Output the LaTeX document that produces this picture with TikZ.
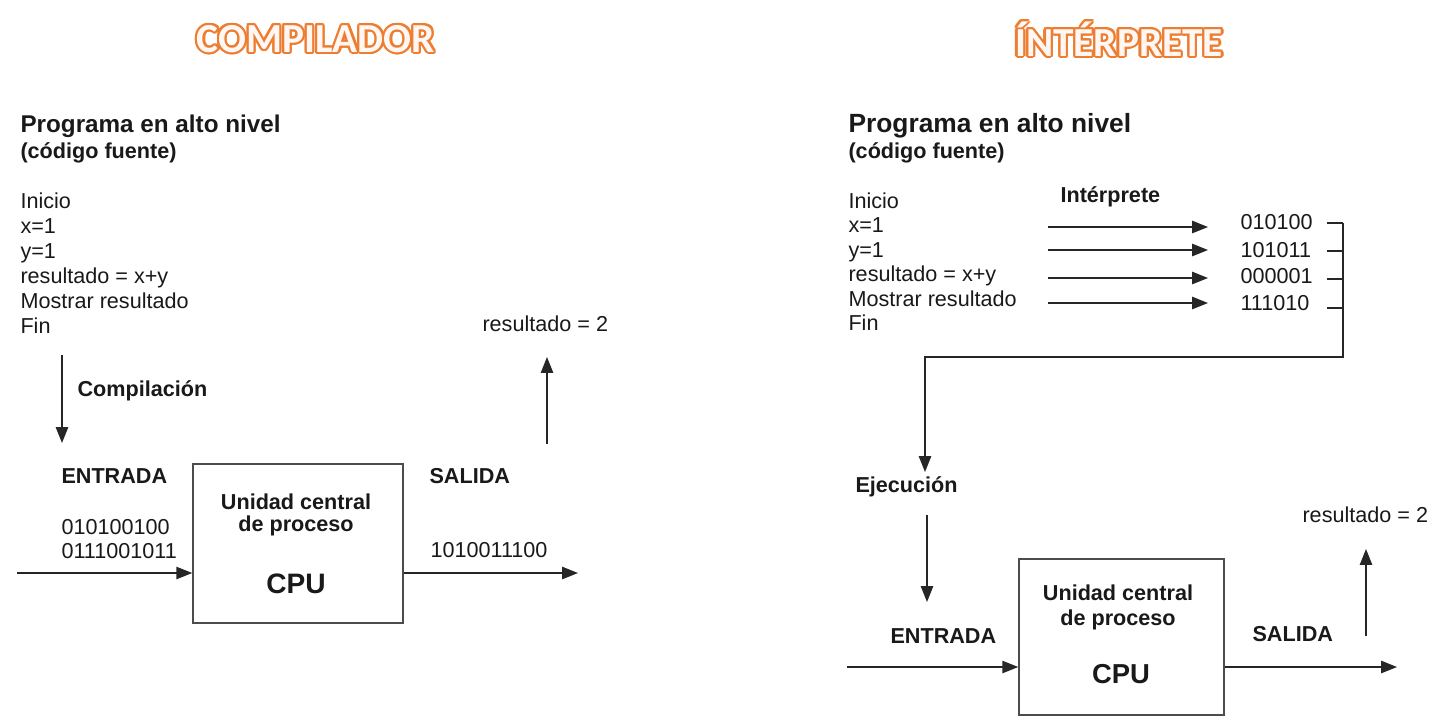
\documentclass[tikz,border=0pt]{standalone}
\usepackage{fontspec}
\setmainfont{Liberation Sans}
\newfontfamily\titlefont{Carlito}
\usepackage{tikz}
\usetikzlibrary{arrows.meta}
\usepackage{tkz-euclide}
\usepackage{contour}
\contourlength{1.2pt}
\definecolor{naranja}{HTML}{ED7D31}

\begin{document}
\begin{tikzpicture}[semithick,x=0.02cm,y=-0.02cm,
  txt/.style={inner sep=0pt,anchor=base west,text=black!90,font=\fontsize{12.3}{14.2}\selectfont},
  negr/.style={txt,font=\fontsize{12.3}{14.2}\selectfont\bfseries},
  titulo/.style={inner sep=0pt,text=naranja!6,font=\fontsize{23.5}{26}\selectfont\titlefont\bfseries},
  caja/.style={draw=black!70,line width=0.9pt},
  flecha/.style={-{Triangle[length=9pt,width=7pt]},line width=0.8pt,black!85}]
\useasboundingbox (0,0) rectangle (1446,724);
\tkzDefPoints{62/355/c1,62/443/c2,17/573/e1,578/573/s1,547/444/r1,547/357/r2}
\tkzDefPoints{1343/223/k1,1343/357/k2,925/357/k3,925/472/k4}
\tkzDefPoints{927/515/j1,927/602/j2,847/667/e2,1397/667/s2,1366/636/r3,1366/549/r4}

\node[titulo] (tcomp) at (316,40) {\contour{naranja}{COMPILADOR}};
\node[titulo] (tint) at (1119,40) {\contour{naranja}{ÍNTÉRPRETE}};

\node[negr,font=\fontsize{13.8}{16}\selectfont\bfseries] (progA) at (20,132) {Programa en alto nivel};
\node[negr] (fuenteA) at (20,158) {(código fuente)};
\foreach \t [count=\i] in {Inicio,x=1,y=1,resultado = x+y,Mostrar resultado,Fin}
  \node[txt] (codA\i) at (20,183+25*\i) {\t};
\node[negr] (compil) at (77,396) {Compilación};
\node[negr] (entA) at (61,483) {ENTRADA};
\node[negr] (salA) at (429,483) {SALIDA};
\node[txt] (binA1) at (61,534) {010100100};
\node[txt] (binA2) at (61,558) {0111001011};
\node[txt] (binA3) at (430,557) {1010011100};
\node[txt] (resA) at (482,331) {resultado = 2};
\node[caja,minimum width=4.2cm,minimum height=3.18cm] (cpuA) at (298,543.5) {};
\node[negr,anchor=base] (ucA) at (296,509) {Unidad central};
\node[negr,anchor=base] (dpA) at (296,531) {de proceso};
\node[negr,anchor=base,font=\fontsize{16}{18}\selectfont\bfseries] (cA) at (296,593) {CPU};
\draw[flecha] (c1)--(c2);
\draw[flecha] (e1)--(e1-|cpuA.west);
\draw[flecha] (s1-|cpuA.east)--(s1);
\draw[flecha] (r1)--(r2);

\node[negr,font=\fontsize{15}{17}\selectfont\bfseries] (progB) at (848,132) {Programa en alto nivel};
\node[negr] (fuenteB) at (848,158) {(código fuente)};
\foreach \t [count=\i] in {Inicio,x=1,y=1,resultado = x+y,Mostrar resultado,Fin}
  \node[txt] (codB\i) at (848,183.5+24.5*\i) {\t};
\node[negr] (interp) at (1060,202) {Intérprete};
\foreach \t/\y/\z [count=\i] in {010100/229/227,101011/257/250,000001/283/278,111010/310/303}{
  \node[txt] (binB\i) at (1240,\y) {\t};
  \coordinate (p\i) at (1048,\z);
  \coordinate (q\i) at (1208,\z);
  \draw[flecha] (p\i)--(q\i);}
\foreach \y in {223,251,279,308}
  \draw[line width=0.8pt,black!85] (1327,\y)--(1343,\y);
\draw[flecha] (k1)--(k2)--(k3)--(k4);
\node[negr] (ejec) at (855,492) {Ejecución};
\node[negr] (entB) at (890,643) {ENTRADA};
\node[negr] (salB) at (1252,641) {SALIDA};
\node[txt] (resB) at (1302,522) {resultado = 2};
\node[caja,minimum width=4.1cm,minimum height=3.12cm] (cpuB) at (1121.5,637) {};
\node[negr,anchor=base] (ucB) at (1118,600) {Unidad central};
\node[negr,anchor=base] (dpB) at (1118,625) {de proceso};
\node[negr,anchor=base,font=\fontsize{15.6}{18}\selectfont\bfseries] (cB) at (1121,683) {CPU};
\draw[flecha] (j1)--(j2);
\draw[flecha] (e2)--(e2-|cpuB.west);
\draw[flecha] (s2-|cpuB.east)--(s2);
\draw[flecha] (r3)--(r4);
\end{tikzpicture}
\end{document}
